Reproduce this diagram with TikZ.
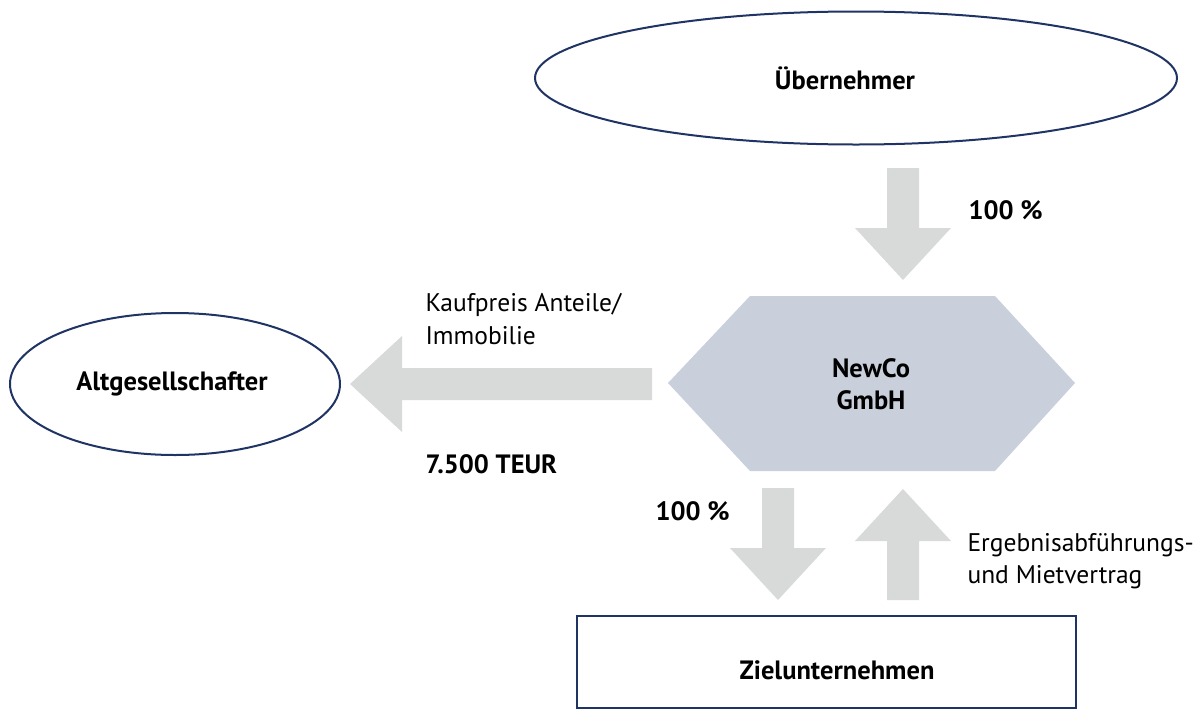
\documentclass[tikz,border=0pt]{standalone}
\usepackage{fontspec}
\setmainfont{PT Sans}
\usetikzlibrary{shapes.geometric,calc}
\definecolor{navy}{HTML}{1F3464}
\definecolor{arrowgray}{HTML}{D8D9D9}
\definecolor{hexfill}{HTML}{C9D0DC}
\tikzset{
  bigtext/.style={font=\fontsize{26.5}{32}\selectfont\bfseries, align=center},
  lbltext/.style={font=\fontsize{25.5}{32.5}\selectfont, align=left, anchor=west},
  lblbold/.style={font=\fontsize{26.5}{32}\selectfont\bfseries, anchor=west},
  oval/.style={ellipse, draw=navy, line width=2pt, inner sep=0pt},
}
\newcommand\blockarrow[2]{%
  \path coordinate (hb) at ($(#2)!52pt!(#1)$);
  \fill[arrowgray] ($(#1)!16pt!90:(#2)$) -- ($(hb)!16pt!90:(#2)$) -- ($(hb)!48pt!90:(#2)$)
    -- (#2) -- ($(hb)!48pt!-90:(#2)$) -- ($(hb)!16pt!-90:(#2)$) -- ($(#1)!16pt!-90:(#2)$) -- cycle;
}
\begin{document}
\begin{tikzpicture}[x=1pt,y=-1pt]
\useasboundingbox (0,0) rectangle (1203,710);
% nodes
\node[oval, bigtext, minimum width=642pt, minimum height=133pt] (ueb) at (856,78) {Übernehmer\kern22pt};
\node[oval, bigtext, minimum width=330pt, minimum height=142pt] (alt) at (175,384) {Altgesellschafter\kern6pt};
\fill[hexfill] (750,296) -- (995,296) -- (1075,383) -- (995,471) -- (750,471) -- (668,383) -- cycle;
\node[bigtext] (newco) at (871,384) {NewCo\\GmbH};
\draw[navy, line width=2pt] (577,708) -- (577,616) -- (1076,616) -- (1076,708) -- cycle;
\node[bigtext] (ziel) at (837,670) {Zielunternehmen};
% arrow anchor points
\coordinate (a1s) at (903,168); \coordinate (a1t) at (903,280);
\coordinate (a2s) at (652,384); \coordinate (a2t) at (350,384);
\coordinate (a3s) at (778,488); \coordinate (a3t) at (778,600);
\coordinate (a4s) at (903,600); \coordinate (a4t) at (903,489);
\blockarrow{a1s}{a1t}
\blockarrow{a2s}{a2t}
\blockarrow{a3s}{a3t}
\blockarrow{a4s}{a4t}
% labels
\node[lblbold] (l1) at (965,210) {100 \%};
\node[lbltext] (l2) at (422,319) {Kaufpreis Anteile/\\Immobilie};
\node[lblbold] (l3) at (422,464) {7.500 TEUR};
\node[lblbold] (l4) at (652,511) {100 \%};
\node[lbltext] (l5) at (964,561) {Ergebnisabführungs-\\und Mietvertrag};
\end{tikzpicture}
\end{document}
